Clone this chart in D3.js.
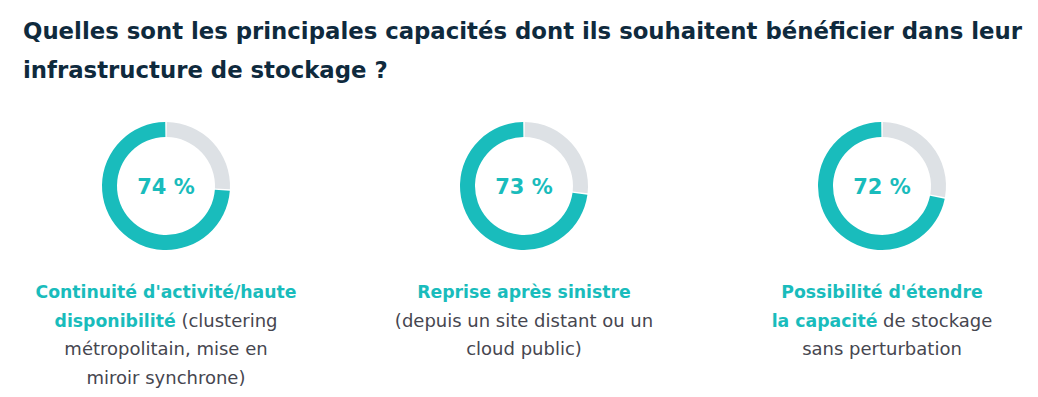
<!DOCTYPE html>
<html>
<head>
<meta charset="utf-8">
<style>
  body { margin: 0; background: #fff; }
  svg { display: block; font-family: "DejaVu Sans", sans-serif; }
</style>
<script src="https://d3js.org/d3.v7.min.js"></script>
</head>
<body>
<svg id="chart" width="1038" height="397"></svg>
<script>
const titleLines = [
  "Quelles sont les principales capacités dont ils souhaitent bénéficier dans leur",
  "infrastructure de stockage ?"
];
const categories = ["continuite", "reprise", "extension"];
const values = [74, 73, 72];
// each label line is a list of [text, highlighted]
const labelLines = [
  [
    [["Continuité d'activité/haute", true]],
    [["disponibilité", true], [" (clustering", false]],
    [["métropolitain, mise en", false]],
    [["miroir synchrone)", false]]
  ],
  [
    [["Reprise après sinistre", true]],
    [["(depuis un site distant ou un", false]],
    [["cloud public)", false]]
  ],
  [
    [["Possibilité d'étendre", true]],
    [["la capacité", true], [" de stockage", false]],
    [["sans perturbation", false]]
  ]
];

const teal = "#19bcbc";
const grey = "#dde1e5";
const svg = d3.select("#chart");

// title
svg.append("g").selectAll("text")
  .data(titleLines)
  .join("text")
  .attr("x", 23)
  .attr("y", (d, i) => 39 + i * 39)
  .attr("font-size", 22.8)
  .attr("font-weight", 700)
  .attr("fill", "#0f2a3d")
  .text(d => d);

const xScale = d3.scalePoint().domain(categories).range([166, 882]);
const cy = 186;

const arc = d3.arc().innerRadius(49).outerRadius(64);
const angle = d3.scaleLinear().domain([0, 100]).range([0, 2 * Math.PI]);

categories.forEach((c, i) => {
  const g = svg.append("g").attr("transform", "translate(" + xScale(c) + "," + cy + ")");
  const split = angle(100 - values[i]);
  // grey remainder from 12 o'clock, teal for the rest
  g.append("path")
    .attr("d", arc({startAngle: 0.012, endAngle: split - 0.012}))
    .attr("fill", grey);
  g.append("path")
    .attr("d", arc({startAngle: split + 0.012, endAngle: 2 * Math.PI - 0.012}))
    .attr("fill", teal);
  g.append("text")
    .attr("text-anchor", "middle")
    .attr("y", 8)
    .attr("font-size", 21)
    .attr("font-weight", 700)
    .attr("fill", teal)
    .text(values[i] + " %");

  const lab = svg.append("text")
    .attr("text-anchor", "middle");
  labelLines[i].forEach((line, j) => {
    line.forEach((seg, k) => {
      const t = lab.append("tspan")
        .attr("font-weight", seg[1] ? 700 : 400)
        .attr("font-size", seg[1] ? 17.3 : 18)
        .attr("fill", seg[1] ? teal : "#46464f")
        .text(seg[0]);
      if (k === 0) t.attr("x", xScale(c)).attr("y", 298 + j * 28.5);
    });
  });
});
</script>
</body>
</html>
